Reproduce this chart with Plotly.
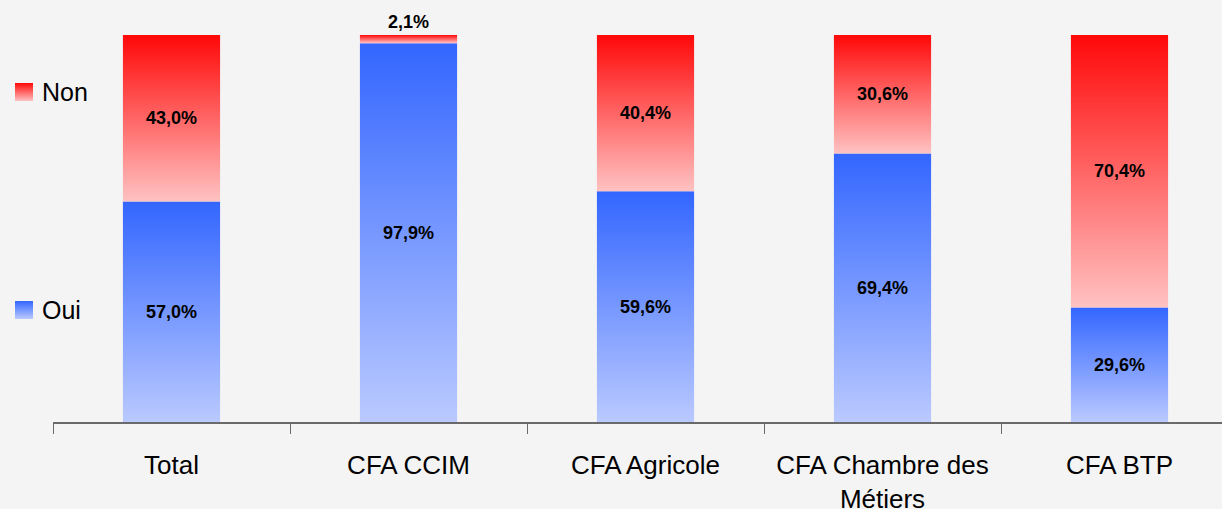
import plotly.graph_objects as go

# ---- data ----
categories = ["Total", "CFA CCIM", "CFA Agricole", "CFA Chambre des<br>Métiers", "CFA BTP"]
oui = [57.0, 97.9, 59.6, 69.4, 29.6]
non = [43.0, 2.1, 40.4, 30.6, 70.4]
series_names = ["Oui", "Non"]

# ---- styles ----
BG = "#F4F4F4"
AXIS = "#6A6A6A"
FONT = "Liberation Sans, Arial, sans-serif"
grad = {
    "Oui": [[0, "rgb(186,201,255)"], [1, "rgb(51,102,255)"]],
    "Non": [[0, "rgb(255,194,194)"], [1, "rgb(255,8,8)"]],
}
BAR_W = 0.41
W, H = 1222, 509
L_PX, T_PX, B_PX = 53, 35, 87

fig = go.Figure()

values = {"Oui": oui, "Non": non}
annotations = []
for i, cat in enumerate(categories):
    base = 0.0
    for name in series_names:
        v = values[name][i]
        x0, x1 = i - BAR_W / 2, i + BAR_W / 2
        fig.add_trace(go.Scatter(
            x=[x0, x1, x1, x0, x0],
            y=[base, base, base + v, base + v, base],
            mode="lines", line=dict(width=0),
            fill="toself",
            fillgradient=dict(type="vertical", colorscale=grad[name]),
            fillcolor=grad[name][1][1],
            showlegend=False, hoverinfo="skip",
        ))
        label = f"{v:.1f}".replace(".", ",") + "%"
        if v < 5:
            annotations.append(dict(x=i, y=base + v, xref="x", yref="y", text=f"<b>{label}</b>",
                                    showarrow=False, yanchor="middle", yshift=13,
                                    font=dict(family=FONT, size=18, color="black")))
        else:
            annotations.append(dict(x=i, y=base + v / 2, xref="x", yref="y", text=f"<b>{label}</b>",
                                    showarrow=False, yanchor="middle",
                                    font=dict(family=FONT, size=18, color="black")))
        base += v

# ---- manual legend (pixel-like overlay axes) ----
legend_items = [("Non", 92), ("Oui", 310)]
for name, ypx in legend_items:
    yc = H - ypx
    fig.add_trace(go.Scatter(
        x=[15, 33, 33, 15, 15],
        y=[yc - 9, yc - 9, yc + 9, yc + 9, yc - 9],
        xaxis="x2", yaxis="y2",
        mode="lines", line=dict(width=0), fill="toself",
        fillgradient=dict(type="vertical", colorscale=grad[name]),
        fillcolor=grad[name][1][1],
        showlegend=False, hoverinfo="skip",
    ))
    annotations.append(dict(x=40, y=yc, xref="x2", yref="y2", text=name, showarrow=False,
                            xanchor="left", yanchor="middle",
                            font=dict(family=FONT, size=25, color="black")))

x_left = -0.5
x_right = x_left + (W - L_PX) / 237.0

fig.update_layout(
    width=W, height=H,
    paper_bgcolor=BG, plot_bgcolor=BG,
    margin=dict(l=0, r=0, t=T_PX, b=B_PX, autoexpand=False),
    showlegend=False,
    annotations=annotations,
    xaxis=dict(
        domain=[L_PX / W, 1], range=[x_left, x_right],
        tickmode="array", tickvals=list(range(len(categories))), ticktext=categories,
        ticks="", showgrid=False, zeroline=False, automargin=False,
        showline=True, linecolor=AXIS, linewidth=1.5,
        tickfont=dict(family=FONT, size=26, color="black"),
        ticklabelstandoff=19,
        minor=dict(tickmode="linear", tick0=-0.5, dtick=1, ticks="outside",
                   ticklen=10, tickcolor=AXIS, tickwidth=1, showgrid=False),
        fixedrange=True,
    ),
    yaxis=dict(range=[0, 100], visible=False, fixedrange=True, automargin=False),
    xaxis2=dict(domain=[0, L_PX / W], range=[0, L_PX], visible=False, anchor="y2"),
    yaxis2=dict(domain=[0, 1], range=[B_PX, H - T_PX], visible=False, anchor="x2"),
)

fig.write_html(
    "out.html",
    config={"displayModeBar": False},
    post_script="document.body.style.margin='0px';document.body.style.overflow='hidden';document.body.style.background='#F4F4F4';",
)
